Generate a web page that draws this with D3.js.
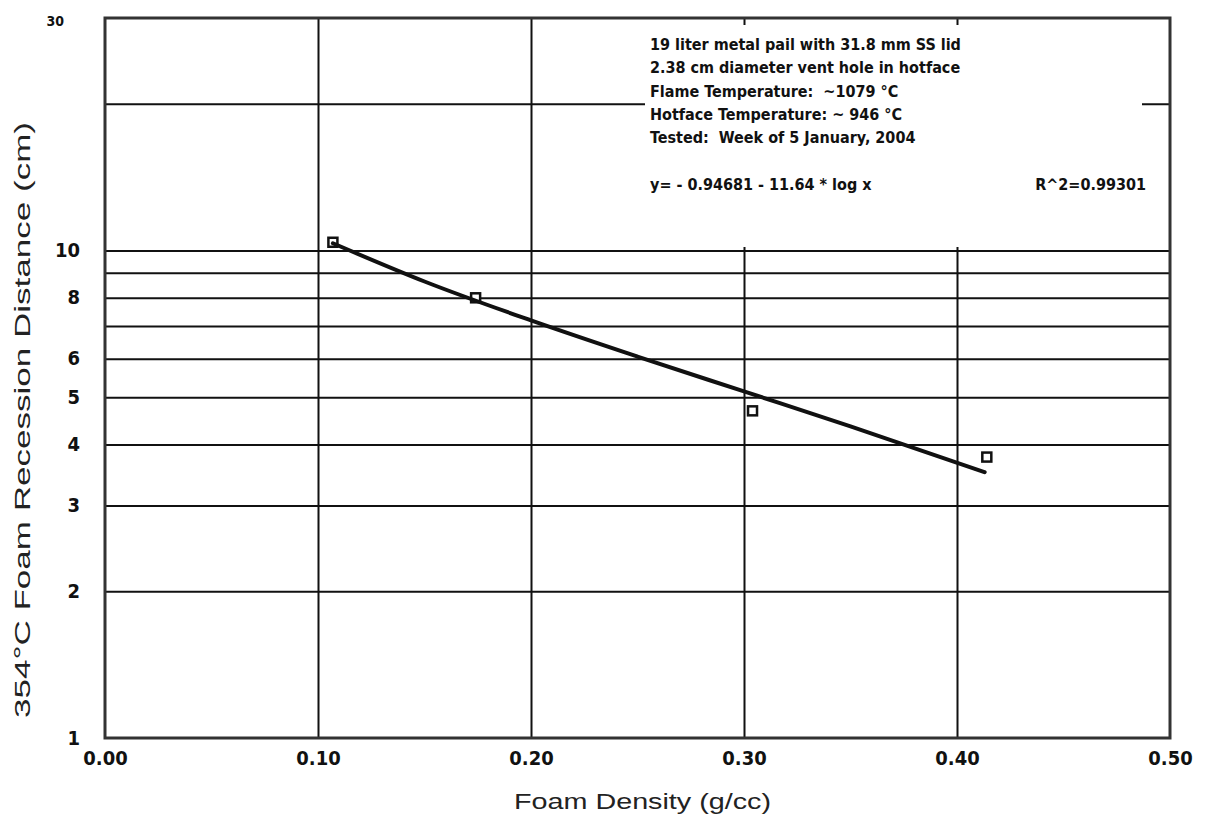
<!DOCTYPE html>
<html>
<head>
<meta charset="utf-8">
<script src="https://cdn.jsdelivr.net/npm/d3@7"></script>
<style>
  html, body { margin: 0; padding: 0; background: #fff; }
  svg { display: block; }
  .tick text { font-family: "Liberation Sans Narrow", "DejaVu Sans Condensed", "Liberation Sans", sans-serif; font-weight: bold; fill: #111; }
  .note { font-family: "Liberation Sans Narrow", "DejaVu Sans Condensed", "Liberation Sans", sans-serif; font-weight: bold; font-size: 16px; fill: #111; white-space: pre; }
  .title { font-family: "Liberation Sans", Arial, sans-serif; font-size: 22px; fill: #222; }
</style>
</head>
<body>
<svg id="chart" width="1211" height="831"></svg>
<script>
// ---- data ----
const densities = [0.107, 0.174, 0.304, 0.414];          // Foam Density (g/cc)
const recession = [10.4, 8.0, 4.69, 3.77];               // 354°C Foam Recession Distance (cm)
const trendX = [0.107, 0.15, 0.2, 0.25, 0.3, 0.35, 0.413]; // fitted line y = -0.94681 - 11.64 log x
const trendY = [10.35, 8.64, 7.19, 6.06, 5.14, 4.36, 3.51];
const xTicks = [0, 0.1, 0.2, 0.3, 0.4, 0.5];
const xTickLabels = ["0.00", "0.10", "0.20", "0.30", "0.40", "0.50"];
const yGridValues = [2, 3, 4, 5, 6, 7, 8, 9, 10, 20];
const yTickValues = [30, 10, 8, 6, 5, 4, 3, 2, 1];
const yTickLabels = ["30", "10", "8", "6", "5", "4", "3", "2", "1"];
const xDomain = [0, 0.5];
const yDomain = [1, 30];
const noteLines = [
  "19 liter metal pail with 31.8 mm SS lid",
  "2.38 cm diameter vent hole in hotface",
  "Flame Temperature:  ~1079 °C",
  "Hotface Temperature: ~ 946 °C",
  "Tested:  Week of 5 January, 2004"
];
const equationText = "y= - 0.94681 - 11.64 * log x";
const r2Text = "R^2=0.99301";
const xTitle = "Foam Density (g/cc)";
const yTitle = "354°C Foam Recession Distance (cm)";

// ---- layout ----
const svg = d3.select("#chart");
const L = 105, R = 1170, T = 18, B = 738;
const x = d3.scaleLinear().domain(xDomain).range([L, R]);
const y = d3.scaleLog().domain(yDomain).range([B, T]);

// gridlines
svg.append("g")
  .attr("transform", `translate(${L},0)`)
  .call(d3.axisLeft(y).tickValues(yGridValues).tickSize(-(R - L)).tickFormat(""))
  .call(g => g.select(".domain").remove())
  .call(g => g.selectAll("line").attr("stroke", "#111").attr("stroke-width", 2));

svg.append("g")
  .attr("transform", `translate(0,${B})`)
  .call(d3.axisBottom(x).tickValues(xTicks.slice(1, -1)).tickSize(-(B - T)).tickFormat(""))
  .call(g => g.select(".domain").remove())
  .call(g => g.selectAll("line").attr("stroke", "#111").attr("stroke-width", 2));

// annotation box (white, hides grid)
const boxX0 = 645, boxX1 = 1142, boxY0 = 25, boxY1 = 247;
svg.append("rect").attr("x", boxX0).attr("y", boxY0)
  .attr("width", boxX1 - boxX0).attr("height", boxY1 - boxY0).attr("fill", "#fff");

// plot border
svg.append("rect").attr("x", L).attr("y", T).attr("width", R - L).attr("height", B - T)
  .attr("fill", "none").attr("stroke", "#333").attr("stroke-width", 3);

// y tick labels
const yLab = svg.append("g")
  .attr("transform", `translate(${L},0)`)
  .call(d3.axisLeft(y).tickValues(yTickValues).tickSize(0).tickPadding(25)
    .tickFormat((d, i) => yTickLabels[i]))
  .call(g => g.select(".domain").remove());
yLab.selectAll("text").attr("font-size", d => d === yTickValues[0] ? 14 : 20)
  .attr("dy", d => d === yTickValues[0] ? "0.5em" : "0.3em")
  .attr("x", d => d === yTickValues[0] ? -41 : -25);

// x tick labels
svg.append("g")
  .attr("transform", `translate(0,${B})`)
  .call(d3.axisBottom(x).tickValues(xTicks).tickSize(0).tickPadding(13)
    .tickFormat((d, i) => xTickLabels[i]))
  .call(g => g.select(".domain").remove())
  .call(g => g.selectAll("text").attr("font-size", 20));

// axis titles
svg.append("text").attr("class", "title")
  .attr("x", (L + R) / 2 + 5).attr("y", 809).attr("text-anchor", "middle")
  .attr("textLength", 257).attr("lengthAdjust", "spacingAndGlyphs").text(xTitle);
svg.append("text").attr("class", "title")
  .attr("transform", "translate(30,420) rotate(-90)").attr("text-anchor", "middle")
  .attr("textLength", 596).attr("lengthAdjust", "spacingAndGlyphs").text(yTitle);

// annotation text
const note = svg.append("g");
note.selectAll("text.line").data(noteLines).join("text")
  .attr("class", "note line").attr("x", 650).attr("y", (d, i) => 50 + i * 23.3).text(d => d);
note.append("text").attr("class", "note").attr("x", 650).attr("y", 190).text(equationText);
note.append("text").attr("class", "note").attr("x", 1146).attr("y", 190)
  .attr("text-anchor", "end").text(r2Text);

// data points
const pts = densities.map((d, i) => ({ x: d, y: recession[i] }));
svg.append("g").selectAll("rect").data(pts).join("rect")
  .attr("x", d => x(d.x) - 4.5).attr("y", d => y(d.y) - 4.5)
  .attr("width", 9).attr("height", 9)
  .attr("fill", "#fff").attr("stroke", "#111").attr("stroke-width", 2.5);

// trend line
const trend = trendX.map((d, i) => [d, trendY[i]]);
svg.append("path").datum(trend)
  .attr("fill", "none").attr("stroke", "#111").attr("stroke-width", 4)
  .attr("stroke-linecap", "round")
  .attr("d", d3.line().x(d => x(d[0])).y(d => y(d[1])).curve(d3.curveMonotoneX));
</script>
</body>
</html>
